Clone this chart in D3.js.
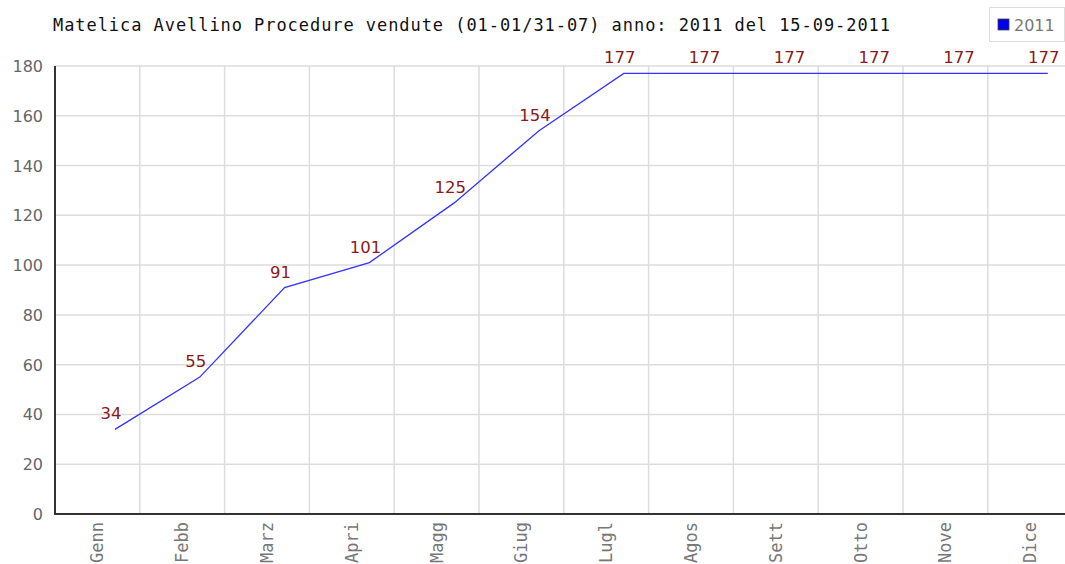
<!DOCTYPE html>
<html>
<head>
<meta charset="utf-8">
<script src="https://cdn.jsdelivr.net/npm/d3@7"></script>
<style>
  body { margin: 0; background: #fff; }
  svg { display: block; }
</style>
</head>
<body>
<svg id="chart" width="1065" height="564"></svg>
<script>
// data
const months = ["Genn","Febb","Marz","Apri","Magg","Giug","Lugl","Agos","Sett","Otto","Nove","Dice"];
const values = [34, 55, 91, 101, 125, 154, 177, 177, 177, 177, 177, 177];
const yTicks = [0, 20, 40, 60, 80, 100, 120, 140, 160, 180];
const seriesName = "2011";
const title = "Matelica Avellino Procedure vendute (01-01/31-07) anno: 2011 del 15-09-2011";

const svg = d3.select("#chart");
const plotLeft = 55, plotTop = 66, plotBottom = 514;
const step = 84.8;

const x = d3.scaleBand().domain(months).range([plotLeft, plotLeft + step * months.length]);
const y = d3.scaleLinear().domain([0, 180]).range([plotBottom, plotTop]);
// points sit a bit right of the band centre, as in the original
const px = d => x(d) + 60;

// grid
svg.append("g")
    .selectAll("line")
    .data(yTicks.filter(d => d > 0))
    .enter().append("line")
    .attr("x1", plotLeft).attr("x2", 1065)
    .attr("y1", d => y(d)).attr("y2", d => y(d))
    .attr("stroke", "#dddddd").attr("stroke-width", 1.5);

svg.append("g")
    .selectAll("line")
    .data(months.slice(1))
    .enter().append("line")
    .attr("x1", d => x(d)).attr("x2", d => x(d))
    .attr("y1", plotTop).attr("y2", plotBottom)
    .attr("stroke", "#dddddd").attr("stroke-width", 1.5);

// y tick labels
svg.append("g")
    .selectAll("text")
    .data(yTicks)
    .enter().append("text")
    .attr("x", 43)
    .attr("y", d => y(d) + 6)
    .attr("text-anchor", "end")
    .attr("font-family", "DejaVu Sans")
    .attr("font-size", 16)
    .attr("fill", "#666")
    .text(d => d);

// x labels (rotated)
svg.append("g")
    .selectAll("text")
    .data(months)
    .enter().append("text")
    .attr("transform", d => "translate(" + (x(d) + x.bandwidth() / 2 + 6) + ",522) rotate(-90)")
    .attr("text-anchor", "end")
    .attr("font-family", "DejaVu Sans Mono")
    .attr("font-size", 17)
    .attr("fill", "#777")
    .text(d => d);

// axes
svg.append("line")
    .attr("x1", plotLeft).attr("x2", plotLeft)
    .attr("y1", plotTop).attr("y2", plotBottom + 1)
    .attr("stroke", "#333").attr("stroke-width", 2);
svg.append("line")
    .attr("x1", plotLeft - 1).attr("x2", 1065)
    .attr("y1", plotBottom).attr("y2", plotBottom)
    .attr("stroke", "#333").attr("stroke-width", 2);

// series line
const line = d3.line()
    .x((d, i) => px(months[i]))
    .y(d => y(d));

svg.append("path")
    .datum(values)
    .attr("d", line)
    .attr("fill", "none")
    .attr("stroke", "#3333ff")
    .attr("stroke-width", 1.3);

// value labels
svg.append("g")
    .selectAll("text")
    .data(values)
    .enter().append("text")
    .attr("x", (d, i) => px(months[i]) - 4)
    .attr("y", d => y(d) - 10)
    .attr("text-anchor", "middle")
    .attr("font-family", "DejaVu Sans")
    .attr("font-size", 16.5)
    .attr("fill", "#8b1a1a")
    .text(d => d);

// title
svg.append("text")
    .attr("x", 53)
    .attr("y", 31)
    .attr("font-family", "DejaVu Sans Mono")
    .attr("font-size", 17)
    .attr("textLength", 837)
    .attr("lengthAdjust", "spacing")
    .attr("fill", "#111")
    .text(title);

// legend
const lg = svg.append("g");
lg.append("rect")
    .attr("x", 989.5).attr("y", 7.5)
    .attr("width", 75).attr("height", 34)
    .attr("fill", "#fff").attr("stroke", "#dddddd");
lg.append("rect")
    .attr("x", 998).attr("y", 19)
    .attr("width", 11).attr("height", 11)
    .attr("fill", "#0000ee").attr("stroke", "#444").attr("stroke-width", 0.8);
lg.append("text")
    .attr("x", 1014).attr("y", 31)
    .attr("font-family", "DejaVu Sans")
    .attr("font-size", 16)
    .attr("fill", "#777")
    .text(seriesName);
</script>
</body>
</html>
